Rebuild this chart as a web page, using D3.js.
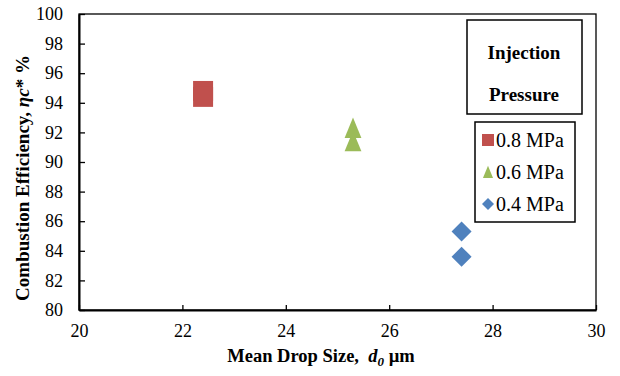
<!DOCTYPE html>
<html>
<head>
<meta charset="utf-8">
<script src="https://cdn.jsdelivr.net/npm/d3@7"></script>
<style>
  body { margin: 0; background: #fff; }
</style>
</head>
<body>
<svg id="mainsvg" width="620" height="376"></svg>
<script>
// series data
const seriesNames = ['0.8 MPa', '0.6 MPa', '0.4 MPa'];
const seriesColors = ['#C0504D', '#9BBB59', '#4F81BD'];
const seriesShapes = ['square', 'triangle', 'diamond'];
const dropSize = [[22.4, 22.4], [25.3, 25.3], [27.4, 27.4]];
const efficiency = [[94.8, 94.4], [92.3, 91.4], [85.3, 83.6]];
const xTicks = [20, 22, 24, 26, 28, 30];
const yTicks = [80, 82, 84, 86, 88, 90, 92, 94, 96, 98, 100];

const FONT = '"Liberation Serif"';

const svg = d3.select('#mainsvg');
const margin = {top: 14, right: 24, bottom: 66, left: 79};
const width = +svg.attr('width');
const height = +svg.attr('height');
const innerWidth = width - margin.left - margin.right;
const innerHeight = height - margin.top - margin.bottom;

const g = svg.append('g')
  .attr('transform', `translate(${margin.left}, ${margin.top})`);

const xScale = d3.scaleLinear().domain([20, 30]).range([0, innerWidth]);
const yScale = d3.scaleLinear().domain([80, 100]).range([innerHeight, 0]);

// plot frame (top/right thin)
g.append('rect')
  .attr('width', innerWidth).attr('height', innerHeight)
  .attr('fill', 'none').attr('stroke', '#000').attr('stroke-width', 1.3);

// axes with inside ticks
const xAxis = d3.axisBottom(xScale).tickValues(xTicks).tickSizeInner(-5).tickSizeOuter(0).tickPadding(14);
const yAxis = d3.axisLeft(yScale).tickValues(yTicks).tickSizeInner(-6).tickSizeOuter(0).tickPadding(16);

const xg = g.append('g').attr('transform', `translate(0, ${innerHeight})`).call(xAxis);
const yg = g.append('g').call(yAxis);
[xg, yg].forEach(a => {
  a.attr('font-family', null).attr('font-size', null);
  a.select('.domain').attr('stroke', '#000').attr('stroke-width', 2);
  a.selectAll('.tick line').attr('stroke', '#000').attr('stroke-width', 1.3);
  a.selectAll('.tick text')
    .style('font-family', FONT)
    .style('font-size', '18px').attr('fill', '#000');
});

// marker shapes
function shapePath(shape, s) {
  if (shape === 'square') return `M${-s/2},${-s/2}h${s}v${s}h${-s}Z`;
  if (shape === 'triangle') return `M0,${-s*0.52}L${s*0.42},${s*0.5}L${-s*0.42},${s*0.5}Z`;
  return `M0,${-s/2}L${s/2},0L0,${s/2}L${-s/2},0Z`;
}

seriesNames.forEach((name, i) => {
  dropSize[i].forEach((xv, j) => {
    g.append('path')
      .attr('d', shapePath(seriesShapes[i], 20))
      .attr('transform', `translate(${xScale(xv)}, ${yScale(efficiency[i][j])})`)
      .attr('fill', seriesColors[i]);
  });
});

// axis titles
const xt = svg.append('text')
  .attr('x', 321).attr('y', 362)
  .attr('text-anchor', 'middle')
  .style('font-family', FONT).style('font-weight', 'bold').style('font-size', '18.5px');
xt.append('tspan').text('Mean Drop Size,\u00a0 ');
xt.append('tspan').style('font-style', 'italic').text('d');
xt.append('tspan').style('font-style', 'italic').style('font-size', '13px').attr('dy', 4).text('0');
xt.append('tspan').attr('dy', -4).text(' µm');

const yt = svg.append('text')
  .attr('transform', 'translate(29, 178) rotate(-90)')
  .attr('text-anchor', 'middle')
  .style('font-family', FONT).style('font-weight', 'bold').style('font-size', '19px');
yt.append('tspan').text('Combustion Efficiency, ');
yt.append('tspan').style('font-style', 'italic').text('ηc');
yt.append('tspan').text('* %');

// legend title box
const lt = svg.append('g');
lt.append('rect').attr('x', 467).attr('y', 20).attr('width', 115).attr('height', 94)
  .attr('fill', '#fff').attr('stroke', '#000').attr('stroke-width', 1.5);
['Injection', 'Pressure'].forEach((t, k) => {
  lt.append('text').attr('x', 524).attr('y', 59 + k * 42).attr('text-anchor', 'middle')
    .style('font-family', FONT).style('font-weight', 'bold').style('font-size', '19px')
    .text(t);
});

// series legend box
const lg = svg.append('g');
lg.append('rect').attr('x', 475).attr('y', 122).attr('width', 100).attr('height', 100)
  .attr('fill', '#fff').attr('stroke', '#000').attr('stroke-width', 1.5);
seriesNames.forEach((name, i) => {
  const cy = 140 + i * 32;
  lg.append('path')
    .attr('d', shapePath(seriesShapes[i], 12))
    .attr('transform', `translate(488, ${cy})`)
    .attr('fill', seriesColors[i]);
  lg.append('text').attr('x', 496).attr('y', cy + 6.5)
    .style('font-family', FONT).style('font-size', '20px').text(name);
});
</script>
</body>
</html>
